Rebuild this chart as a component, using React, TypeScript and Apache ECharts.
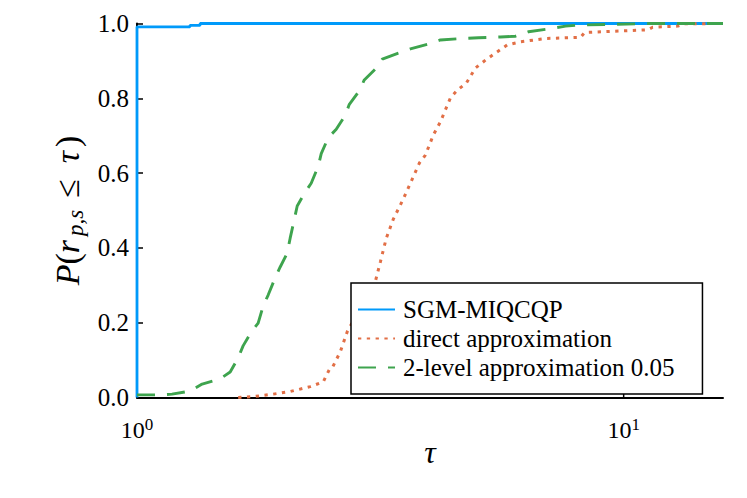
import React, { useEffect, useRef } from "react";
import * as echarts from "echarts";

const FONT = "Liberation Serif";

const seriesNames = ["SGM-MIQCQP", "direct approximation", "2-level approximation 0.05"];
const seriesColors = ["#009AFA", "#E26F46", "#3EA44E"];

const sgmData: [number, number][] = [
  [1, 0], [1, 0.991], [1.285, 0.991], [1.285, 0.995], [1.348, 0.995], [1.348, 1.0], [16, 1.0],
];

const directData: [number, number][] = [
  [1.614, 0.0], [1.75, 0.003], [1.905, 0.009], [2.064, 0.016], [2.27, 0.029], [2.414, 0.042],
  [2.483, 0.074], [2.518, 0.079], [2.616, 0.122], [2.704, 0.176], [3.088, 0.31], [3.162, 0.362],
  [3.253, 0.426], [3.363, 0.477], [3.526, 0.531], [3.646, 0.573], [3.804, 0.627], [3.913, 0.648],
  [4.064, 0.702], [4.202, 0.737], [4.302, 0.769], [4.406, 0.801], [4.553, 0.822], [4.753, 0.841],
  [4.96, 0.881], [5.2, 0.902], [5.452, 0.921], [5.771, 0.943], [6.138, 0.951], [6.911, 0.96],
  [8.157, 0.963], [8.315, 0.976], [11.2, 0.983], [11.47, 0.99], [12.92, 0.993], [13.29, 0.999],
  [16, 1.0],
];

const twoLevelData: [number, number][] = [
  [1, 0.007], [1.115, 0.007], [1.18, 0.009], [1.285, 0.017], [1.361, 0.036], [1.482, 0.05],
  [1.554, 0.068], [1.614, 0.106], [1.652, 0.138], [1.717, 0.175], [1.774, 0.199], [1.817, 0.245],
  [1.86, 0.274], [1.923, 0.32], [1.969, 0.349], [2.035, 0.386], [2.064, 0.426], [2.104, 0.475],
  [2.134, 0.512], [2.216, 0.549], [2.28, 0.573], [2.357, 0.618], [2.391, 0.652], [2.472, 0.695],
  [2.567, 0.717], [2.679, 0.755], [2.731, 0.784], [2.862, 0.82], [2.931, 0.849], [3.103, 0.881],
  [3.192, 0.905], [3.444, 0.921], [3.646, 0.932], [3.97, 0.945], [4.202, 0.956], [4.665, 0.96],
  [5.03, 0.962], [5.583, 0.964], [5.996, 0.966], [6.376, 0.978], [6.977, 0.985], [7.598, 0.993],
  [8.157, 0.996], [11.36, 1.0], [16, 1.0],
];

const xTickValues = [1, 10];
const xMin = 1;
const xMax = 16;
const yMin = 0;
const yMax = 1;
const yInterval = 0.2;

export default function App() {
  const ref = useRef<HTMLDivElement>(null);

  useEffect(() => {
    if (!ref.current) return;
    const chart = echarts.init(ref.current, undefined, { renderer: "svg" });

    const lineTypes: any[] = ["solid", [3.3, 5.5], [18, 12]];
    const lineWidths = [2.8, 3, 2.9];
    const datas = [sgmData, directData, twoLevelData];

    const series: any[] = datas.map((d, i) => ({
      name: seriesNames[i],
      type: "line",
      data: d,
      symbol: "none",
      showSymbol: false,
      color: seriesColors[i],
      lineStyle: { color: seriesColors[i], width: lineWidths[i], type: lineTypes[i], cap: "butt" },
      itemStyle: { color: seriesColors[i] },
      z: 2 + i,
    }));

    series.push({
      type: "custom",
      name: "xticks",
      data: xTickValues.map((v) => [v, yMin]),
      silent: true,
      clip: false,
      z: 1,
      renderItem: (_params: any, api: any) => {
        const p = api.coord([api.value(0), api.value(1)]);
        return {
          type: "line",
          shape: { x1: p[0], y1: p[1], x2: p[0], y2: p[1] - 6 },
          style: { stroke: "#000", lineWidth: 1.5 },
        };
      },
    });

    chart.setOption({
      animation: false,
      backgroundColor: "#ffffff",
      textStyle: { fontFamily: FONT },
      grid: { left: 137, right: 24, top: 23.5, bottom: 100.5, containLabel: false },
      xAxis: {
        type: "log",
        logBase: 10,
        min: xMin,
        max: xMax,
        name: "τ",
        nameLocation: "middle",
        nameGap: 36,
        nameMoveOverlap: false,
        nameTextStyle: {
          fontFamily: FONT,
          fontStyle: "italic",
          fontSize: 32,
          lineHeight: 36,
          color: "#000",
        },
        axisLine: { show: true, onZero: false, lineStyle: { color: "#000", width: 2 } },
        axisTick: { show: false },
        minorTick: { show: false },
        splitLine: { show: false },
        minorSplitLine: { show: false },
        axisLabel: {
          margin: 18,
          color: "#000",
          fontFamily: FONT,
          formatter: (v: number) => {
            const e = Math.log10(v);
            const r = Math.round(e);
            if (Math.abs(e - r) > 1e-6) return "";
            return `{b|10}{s|${r}}`;
          },
          rich: {
            b: { fontFamily: FONT, fontSize: 24, lineHeight: 28, color: "#000" },
            s: { fontFamily: FONT, fontSize: 17, lineHeight: 15, verticalAlign: "top", color: "#000" },
          },
        },
      },
      yAxis: {
        type: "value",
        min: yMin,
        max: yMax,
        interval: yInterval,
        name: "{i|P}{n|(}{r|r}{sub|p,s}{le|≤}{t|τ}{n|)}",
        nameLocation: "middle",
        nameRotate: 90,
        nameGap: 50,
        nameMoveOverlap: false,
        nameTextStyle: {
          color: "#000",
          fontFamily: FONT,
          rich: {
            i: { fontFamily: FONT, fontStyle: "italic", fontSize: 34, lineHeight: 40, color: "#000" },
            r: { fontFamily: FONT, fontStyle: "italic", fontSize: 34, lineHeight: 40, padding: [0, 4, 0, 0], color: "#000" },
            t: { fontFamily: FONT, fontStyle: "italic", fontSize: 34, lineHeight: 40, padding: [0, 4, 0, 0], color: "#000" },
            n: { fontFamily: FONT, fontSize: 34, lineHeight: 40, color: "#000" },
            sub: { fontFamily: FONT, fontStyle: "italic", fontSize: 23, lineHeight: 22, verticalAlign: "bottom", color: "#000" },
            le: { fontFamily: FONT, fontSize: 34, lineHeight: 40, padding: [0, 16, 0, 12], color: "#000" },
          },
        },
        axisLine: { show: true, lineStyle: { color: "#000", width: 2 } },
        axisTick: { show: true, inside: true, length: 6, lineStyle: { color: "#000", width: 1.5 } },
        splitLine: { show: false },
        axisLabel: {
          margin: 8,
          color: "#000",
          fontFamily: FONT,
          fontSize: 25,
          formatter: (v: number) => v.toFixed(1),
        },
      },
      legend: {
        data: seriesNames,
        orient: "vertical",
        left: 351,
        top: 283,
        padding: [14, 28, 14, 6],
        itemGap: 4,
        itemWidth: 37,
        itemHeight: 14,
        itemStyle: { color: "rgba(0,0,0,0)", opacity: 0, borderWidth: 0 },
        backgroundColor: "#fff",
        borderColor: "#000",
        borderWidth: 1.5,
        borderRadius: 0,
        textStyle: {
          fontFamily: FONT,
          fontSize: 25,
          lineHeight: 22,
          color: "#000",
          padding: [0, 0, 0, 3],
        },
      },
      series,
    });

    return () => {
      chart.dispose();
    };
  }, []);

  return (
    <div
      ref={ref}
      style={{ position: "fixed", left: 0, top: 0, width: 747, height: 498, background: "#fff" }}
    />
  );
}
